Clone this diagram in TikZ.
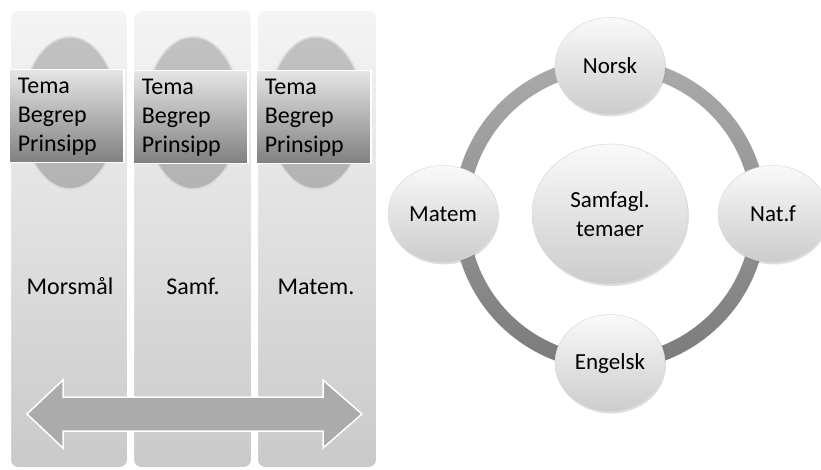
\documentclass[tikz,border=0pt]{standalone}
\usepackage{fontspec}
\setmainfont{Carlito}
\usetikzlibrary{shadows,shapes.geometric}
\begin{document}
\begin{tikzpicture}[x=1pt,y=-1pt,
  colbox/.style={rounded corners=8pt, top color=black!4, bottom color=black!21, draw=white, line width=2pt},
  colell/.style={ellipse, minimum width=95pt, minimum height=152pt, top color=black!24, bottom color=black!30, draw=white!85!black, line width=1.5pt},
  tbox/.style={rectangle, anchor=north west, minimum width=115pt, minimum height=93pt, text width=97pt, inner xsep=9pt, align=left, top color=black!10, bottom color=black!50, draw=white, line width=1.5pt, font=\fontsize{24}{29}\selectfont},
  lbl/.style={anchor=base, font=\fontsize{24}{28}\selectfont},
  ringfill/.style={top color=black!33, bottom color=black!52, even odd rule},
  bub/.style={ellipse, minimum width=110pt, minimum height=97pt, top color=black!2, bottom color=black!20, draw=black!15, line width=0.5pt, drop shadow={opacity=0.25, shadow xshift=1pt, shadow yshift=-2pt}, font=\fontsize{23}{29}\selectfont, align=center},
  arr/.style={fill=black!33, draw=white, line width=1.5pt, line join=miter}
]
\useasboundingbox (0,0) rectangle (821,470);
% columns
\path[colbox] (10,10) rectangle (128,468);
\path[colbox] (133,10) rectangle (252,468);
\path[colbox] (257,10) rectangle (377,468);
% ellipses
\node[colell] (e1) at (70,113) {};
\node[colell] (e2) at (193,113) {};
\node[colell] (e3) at (316,113) {};
% text boxes
\node[tbox] (b1) at (8,69) {Tema\\Begrep\\Prinsipp};
\node[tbox] (b2) at (132,70) {Tema\\Begrep\\Prinsipp};
\node[tbox] (b3) at (255,70) {Tema\\Begrep\\Prinsipp};
% labels
\node[lbl] (l1) at (70,294) {Morsmål};
\node[lbl] (l2) at (193,294) {Samf.};
\node[lbl] (l3) at (316,294) {Matem.};
% double arrow
\path[arr] (27,414) -- (63,380) -- (63,397) -- (323,397) -- (323,380) -- (362,414)
  -- (323,448) -- (323,431) -- (63,431) -- (63,448) -- cycle;
% ring
\coordinate (rc) at (610,214);
\path[ringfill] (rc) circle[radius=156.5pt] (rc) circle[radius=141.5pt];
% bubbles
\node[bub] (norsk) at (610,66) {Norsk};
\node[bub] (engelsk) at (610,363) {Engelsk};
\node[bub] (matem) at (443,214) {Matem};
\node[bub] (natf) at (773,214) {Nat.f};
\node[bub, minimum width=156pt, minimum height=140pt] (sam) at (rc) {Samfagl.\\temaer};
\end{tikzpicture}
\end{document}
